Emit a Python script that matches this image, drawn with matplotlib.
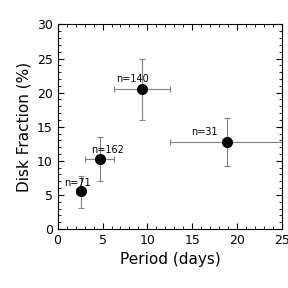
import matplotlib.pyplot as plt
from matplotlib.ticker import AutoMinorLocator

# Period bins and disk fractions
period = [2.6, 4.7, 9.4, 18.8]
period_lo = [2.0, 3.1, 6.25, 12.5]
period_hi = [3.1, 6.25, 12.5, 30.0]
frac = [5.5, 10.3, 20.6, 12.8]
frac_lo = [3.1, 7.1, 16.0, 9.3]
frac_hi = [7.8, 13.5, 25.0, 16.3]
labels = ["n=71", "n=162", "n=140", "n=31"]

xerr = [[p - lo for p, lo in zip(period, period_lo)],
        [hi - p for p, hi in zip(period, period_hi)]]
yerr = [[f - lo for f, lo in zip(frac, frac_lo)],
        [hi - f for f, hi in zip(frac, frac_hi)]]

fig, ax = plt.subplots(figsize=(2.88, 2.88), dpi=100)
fig.subplots_adjust(left=0.2, right=0.98, bottom=0.205, top=0.915)

ax.errorbar(period, frac, xerr=xerr, yerr=yerr, fmt='o', color='black',
            ecolor='gray', elinewidth=0.8, capsize=2, capthick=0.8,
            markersize=7)

offsets = [(-1.9, 0.8), (-1.0, 0.8), (-2.9, 1.0), (-3.9, 1.0)]
for x, y, t, (dx, dy) in zip(period, frac, labels, offsets):
    ax.text(x + dx, y + dy, t, fontsize=7)

ax.set_xlim(0, 25)
ax.set_ylim(0, 30)
ax.set_xticks([0, 5, 10, 15, 20, 25])
ax.set_yticks([0, 5, 10, 15, 20, 25, 30])
ax.xaxis.set_minor_locator(AutoMinorLocator(5))
ax.yaxis.set_minor_locator(AutoMinorLocator(5))
ax.tick_params(which='both', direction='in', top=True, right=True, labelsize=9)
ax.tick_params(which='major', length=4)
ax.tick_params(which='minor', length=2)
ax.set_xlabel("Period (days)", fontsize=11)
ax.set_ylabel("Disk Fraction (%)", fontsize=11)

fig.savefig("out.png", dpi=100)
